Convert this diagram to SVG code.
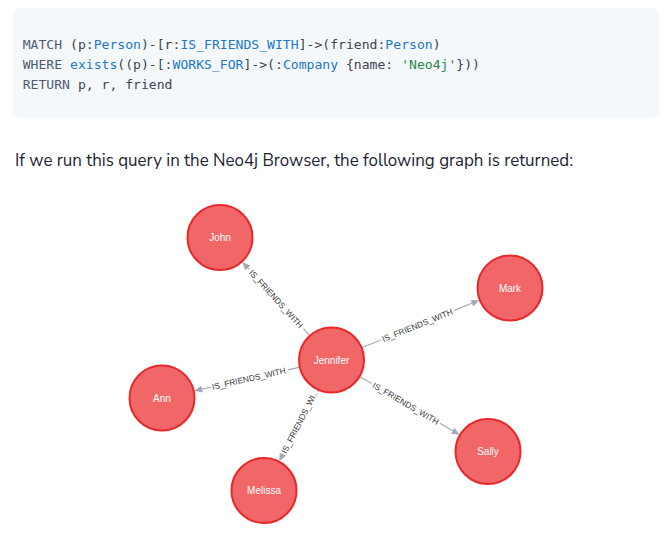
<svg xmlns="http://www.w3.org/2000/svg" width="664" height="540" viewBox="0 0 664 540">
<style>
.code{font-family:"DejaVu Sans Mono","Liberation Mono",monospace;font-size:13.1px;fill:#3d4350}
.kw{fill:#4f5b72}
.bl{fill:#2178c9}
.gr{fill:#2a8a4e}
.para{font-family:"Nunito Sans","Noto Sans","Open Sans",sans-serif;font-size:17.5px;fill:#1d2433}
.node circle{fill:#f16667;stroke:#e8282a;stroke-width:2}
.node text{font-family:"Liberation Sans",Arial,sans-serif;font-size:10px;fill:#ffffff;text-anchor:middle}
.rel line{stroke:#a5abb6;stroke-width:1.2}
.rel polygon{fill:#a5abb6}
.rel text{font-family:"Liberation Sans",Arial,sans-serif;font-size:8.4px;fill:#3a3a3a;text-anchor:middle;dominant-baseline:central}
</style>
<rect x="13" y="8" width="646" height="110" rx="8" fill="#f5f8fb"/>
<text class="code" x="22.7" y="49"><tspan class="kw">MATCH</tspan> (p:<tspan class="bl">Person</tspan>)-[r:<tspan class="bl">IS_FRIENDS_WITH</tspan>]-&gt;(friend:<tspan class="bl">Person</tspan>)</text>
<text class="code" x="22.7" y="69"><tspan class="kw">WHERE</tspan> <tspan class="bl">exists</tspan>((p)-[:<tspan class="bl">WORKS_FOR</tspan>]-&gt;(:<tspan class="bl">Company</tspan> {name: <tspan class="gr">'Neo4j'</tspan>}))</text>
<text class="code" x="22.7" y="88.5"><tspan class="kw">RETURN</tspan> p, r, friend</text>
<text class="para" x="15" y="166" textLength="558" lengthAdjust="spacingAndGlyphs">If we run this query in the Neo4j Browser, the following graph is returned:</text>
<g id="connectors">
<g class="rel" id="rel-john" transform="translate(242.3,261.9) rotate(47.56)">
<polygon points="0,0 8,-3.5 8,3.5"/>
<line x1="8" y1="0" x2="10" y2="0"/>
<text x="50" y="0">IS_FRIENDS_WITH</text>
<line x1="90.5" y1="0" x2="100" y2="0"/>
</g>
<g class="rel" id="rel-mark" transform="translate(361.6,347.8) rotate(-21.97)">
<line x1="0" y1="0" x2="21" y2="0"/>
<text x="60" y="0">IS_FRIENDS_WITH</text>
<line x1="100" y1="0" x2="119" y2="0"/>
<polygon points="127,0 119,-3.5 119,3.5"/>
</g>
<g class="rel" id="rel-ann" transform="translate(194.2,390.8) rotate(-12.64)">
<polygon points="0,0 8,-3.5 8,3.5"/>
<line x1="8" y1="0" x2="17.5" y2="0"/>
<text x="56" y="0">IS_FRIENDS_WITH</text>
<line x1="96" y1="0" x2="108.2" y2="0"/>
</g>
<g class="rel" id="rel-melissa" transform="translate(279.2,461.2) rotate(-62.65)">
<polygon points="0,0 8,-3.5 8,3.5"/>
<text x="45" y="0">IS_FRIENDS_WI...</text>
</g>
<g class="rel" id="rel-sally" transform="translate(359.6,376.4) rotate(30.27)">
<line x1="0" y1="0" x2="14" y2="0"/>
<text x="53.5" y="0">IS_FRIENDS_WITH</text>
<line x1="93" y1="0" x2="107.8" y2="0"/>
<polygon points="115.8,0 107.8,-3.5 107.8,3.5"/>
</g>
</g>
<g class="node" id="node-john"><circle cx="220" cy="237.5" r="32.5"/><text x="220" y="241">John</text></g>
<g class="node" id="node-jennifer"><circle cx="331.5" cy="360" r="32.5"/><text x="331.5" y="363.5">Jennifer</text></g>
<g class="node" id="node-mark"><circle cx="510" cy="288" r="32.5"/><text x="510" y="291.5">Mark</text></g>
<g class="node" id="node-ann"><circle cx="162" cy="398" r="32.5"/><text x="162" y="401.5">Ann</text></g>
<g class="node" id="node-melissa"><circle cx="264" cy="490.5" r="32.5"/><text x="264" y="494">Melissa</text></g>
<g class="node" id="node-sally"><circle cx="488" cy="451.5" r="32.5"/><text x="488" y="455">Sally</text></g>
</svg>
